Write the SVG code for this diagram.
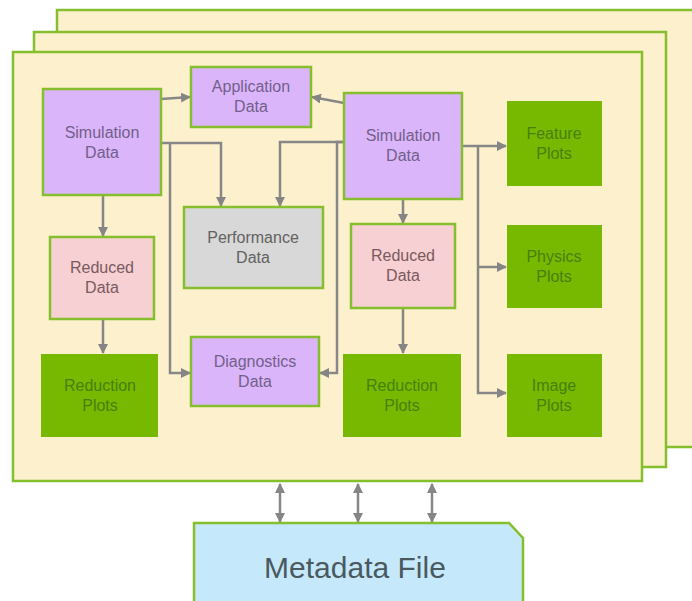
<svg xmlns="http://www.w3.org/2000/svg" width="692" height="601" viewBox="0 0 692 601">
  <defs>
    <marker id="arr" viewBox="0 0 10 10" refX="9" refY="5" markerWidth="4" markerHeight="4" orient="auto-start-reverse" markerUnits="strokeWidth">
      <path d="M0,0 L10,5 L0,10 Z" fill="#858585"/>
    </marker>
    <style>
      .panel { fill: #fdf0cc; stroke: #86bf2e; stroke-width: 2.5; }
      .node rect, .node path { stroke: #86bf2e; stroke-width: 2.5; }
      .sim { fill: #dbb5fa; }
      .red { fill: #f6d0d2; }
      .perf { fill: #d8d8d8; }
      .plot { fill: #76b900; stroke: none !important; }
      .meta { fill: #c6e8fb; }
      text { font-family: "Liberation Sans", Arial, sans-serif; font-size: 16px; text-anchor: middle; }
      .tp { fill: #72608a; }
      .tr { fill: #7a5a5e; }
      .tg { fill: #626262; }
      .tl { fill: #47800c; }
      .tm { fill: #4a5960; font-size: 30px; }
      .conn path { fill: none; stroke: #878787; stroke-width: 2.5; }
    </style>
  </defs>

  <!-- stacked panels -->
  <rect class="panel" x="57" y="10" width="660" height="437"/>
  <rect class="panel" x="34" y="32" width="632" height="435"/>
  <rect class="panel" x="13" y="52" width="629" height="429"/>

  <!-- connectors -->
  <g id="connectors" class="conn">
    <path d="M161,99 L190,97" marker-end="url(#arr)"/>
    <path d="M344,103 L312,97" marker-end="url(#arr)"/>
    <path d="M161,143 H221 V206" marker-end="url(#arr)"/>
    <path d="M170,143 V373 H190" marker-end="url(#arr)"/>
    <path d="M344,142 H280 V206" marker-end="url(#arr)"/>
    <path d="M344,142 H337 V373 H320" marker-end="url(#arr)"/>
    <path d="M103,195 V236" marker-end="url(#arr)"/>
    <path d="M103,319 V353" marker-end="url(#arr)"/>
    <path d="M403,199 V223" marker-end="url(#arr)"/>
    <path d="M403,308 V353" marker-end="url(#arr)"/>
    <path d="M462,146 H506" marker-end="url(#arr)"/>
    <path d="M478,146 V393 H506" marker-end="url(#arr)"/>
    <path d="M478,267 H506" marker-end="url(#arr)"/>
    <path d="M280,484 V522" marker-start="url(#arr)" marker-end="url(#arr)"/>
    <path d="M358,484 V522" marker-start="url(#arr)" marker-end="url(#arr)"/>
    <path d="M432,484 V522" marker-start="url(#arr)" marker-end="url(#arr)"/>
  </g>

  <!-- nodes -->
  <g id="sim-left" class="node">
    <rect class="sim" x="43" y="89" width="118" height="106"/>
    <text class="tp" x="102" y="138">Simulation</text>
    <text class="tp" x="102" y="158">Data</text>
  </g>
  <g id="app-data" class="node">
    <rect class="sim" x="191" y="67" width="120" height="60"/>
    <text class="tp" x="251" y="92">Application</text>
    <text class="tp" x="251" y="112">Data</text>
  </g>
  <g id="sim-right" class="node">
    <rect class="sim" x="344" y="93" width="118" height="106"/>
    <text class="tp" x="403" y="141">Simulation</text>
    <text class="tp" x="403" y="161">Data</text>
  </g>
  <g id="perf-data" class="node">
    <rect class="perf" x="184" y="207" width="139" height="81"/>
    <text class="tg" x="253" y="243">Performance</text>
    <text class="tg" x="253" y="263">Data</text>
  </g>
  <g id="reduced-left" class="node">
    <rect class="red" x="50" y="237" width="104" height="82"/>
    <text class="tr" x="102" y="273">Reduced</text>
    <text class="tr" x="102" y="293">Data</text>
  </g>
  <g id="reduced-right" class="node">
    <rect class="red" x="351" y="224" width="104" height="84"/>
    <text class="tr" x="403" y="261">Reduced</text>
    <text class="tr" x="403" y="281">Data</text>
  </g>
  <g id="diag-data" class="node">
    <rect class="sim" x="191" y="337" width="128" height="69"/>
    <text class="tp" x="255" y="367">Diagnostics</text>
    <text class="tp" x="255" y="387">Data</text>
  </g>
  <g id="reduction-left" class="node">
    <rect class="plot" x="41" y="354" width="117" height="83"/>
    <text class="tl" x="100" y="391">Reduction</text>
    <text class="tl" x="100" y="411">Plots</text>
  </g>
  <g id="reduction-right" class="node">
    <rect class="plot" x="343" y="354" width="118" height="83"/>
    <text class="tl" x="402" y="391">Reduction</text>
    <text class="tl" x="402" y="411">Plots</text>
  </g>
  <g id="feature-plots" class="node">
    <rect class="plot" x="507" y="101" width="95" height="85"/>
    <text class="tl" x="554" y="139">Feature</text>
    <text class="tl" x="554" y="159">Plots</text>
  </g>
  <g id="physics-plots" class="node">
    <rect class="plot" x="507" y="225" width="95" height="83"/>
    <text class="tl" x="554" y="262">Physics</text>
    <text class="tl" x="554" y="282">Plots</text>
  </g>
  <g id="image-plots" class="node">
    <rect class="plot" x="507" y="354" width="95" height="83"/>
    <text class="tl" x="554" y="391">Image</text>
    <text class="tl" x="554" y="411">Plots</text>
  </g>
  <g id="metadata-file" class="node">
    <path class="meta" d="M194,523 H509 L523,538 V605 H194 Z"/>
    <text class="tm" x="355" y="578">Metadata File</text>
  </g>
</svg>
